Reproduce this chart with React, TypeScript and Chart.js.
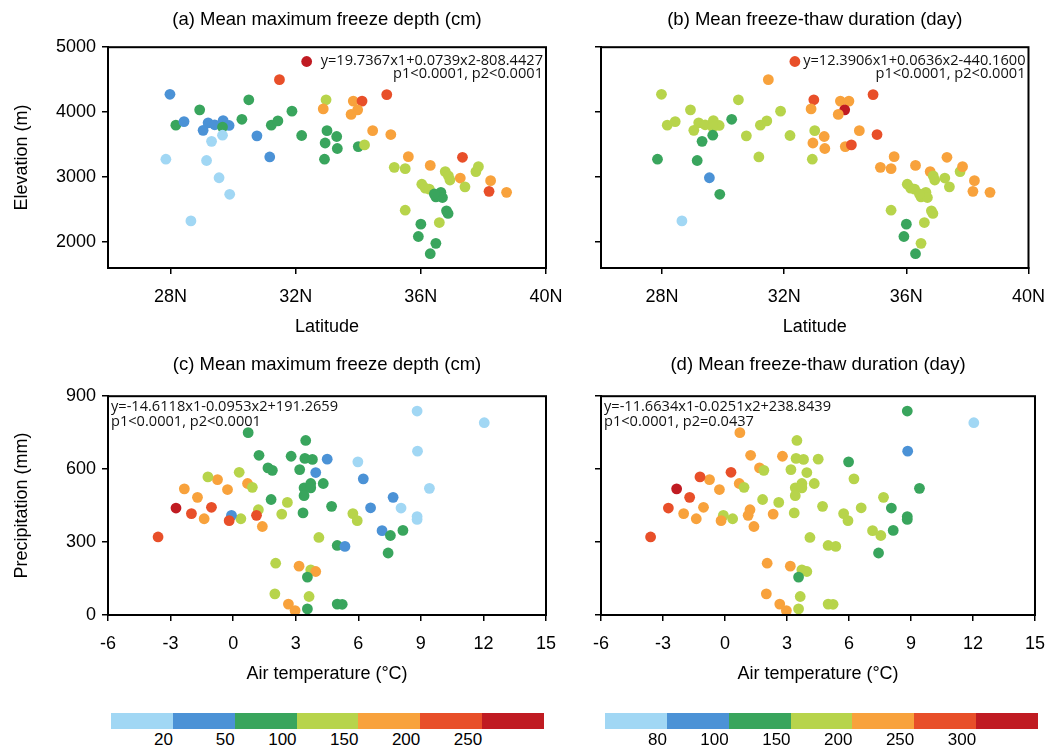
import React, { useEffect, useRef } from "react";
import { Chart, registerables } from "chart.js";

Chart.register(...registerables);

// ---- Stations for panels (a) and (b): latitude (°N) vs elevation (m)
const latitude = [
  32.35, 31.48, 27.98, 30.5, 28.93, 28.17, 28.43, 29.2, 29.41, 29.68,
  29.87, 29.66, 29.04, 29.31, 29.66, 27.85, 29.15, 29.55, 29.89, 28.65,
  30.28, 30.76, 31.17, 31.22, 31.43, 31.88, 32.19, 32.97, 32.88, 33.0,
  32.94, 33.31, 33.33, 32.92, 33.84, 34.12, 33.98, 33.77, 34.91, 34.46,
  35.04, 34.0, 34.2, 35.6, 35.15, 35.5, 36.3, 37.33, 36.78, 36.88,
  36.93, 37.26, 37.41, 37.76, 37.84, 38.23, 38.18, 38.74, 36.03, 36.14,
  36.27, 36.48, 36.64, 36.69, 36.43, 36.82, 36.87, 35.5, 36.0, 36.59,
  35.92, 36.48, 36.3,
];
const elevation = [
  4780, 4500, 4275, 4190, 4035, 3800, 3855, 3835, 3805, 3870,
  3795, 3770, 3720, 3550, 3645, 3275, 3255, 2990, 2735, 2325,
  3890, 3635, 3310, 3800, 3865, 4015, 3640, 4190, 4050, 3715,
  3525, 3625, 3440, 3275, 4170, 4170, 4035, 3965, 4270, 3715,
  3655, 3470, 3495, 3315, 3150, 3130, 3180, 3305, 3085, 3020,
  2955, 2985, 2850, 3085, 3160, 2945, 2780, 2765, 2890, 2830,
  2815, 2695, 2765, 2685, 2740, 2480, 2440, 2490, 2275, 2300,
  2085, 1980, 1820,
];
const freezeDepthAB = [
  280, 230, 40, 85, 70, 65, 35, 42, 38, 45,
  30, 60, 44, 15, 18, 10, 14, 16, 12, 8,
  78, 46, 33, 82, 90, 95, 88, 140, 165, 92,
  80, 86, 74, 68, 180, 240, 190, 172, 235, 185,
  178, 97, 130, 168, 138, 142, 176, 228, 128, 135,
  120, 195, 145, 132, 148, 182, 245, 188, 118, 126,
  134, 93, 88, 84, 90, 76, 72, 112, 66, 116,
  62, 70, 58,
];
const ftDurationAB = [
  270, 230, 170, 180, 175, 165, 172, 178, 168, 182,
  176, 174, 160, 140, 135, 128, 132, 92, 118, 72,
  145, 185, 190, 178, 184, 172, 166, 265, 235, 188,
  215, 220, 225, 195, 240, 238, 315, 228, 275, 232,
  262, 218, 268, 226, 212, 214, 222, 236, 210, 192,
  186, 180, 176, 188, 208, 230, 242, 234, 170, 168,
  172, 164, 176, 160, 166, 162, 170, 178, 142, 158,
  138, 155, 130,
];

// ---- Stations for panels (c) and (d): air temperature (°C) vs precipitation (mm)
const airTemp = [
  0.72, 3.48, 1.24, 2.78, 3.44, 3.8, 4.51, 3.96, 1.67, 1.88,
  3.19, 3.4, 3.72, 3.72, 4.32, 3.4, 1.82, 3.35, 4.72, 5.98,
  6.24, 7.67, 8.05, 6.59, 5.74, 5.95, 8.82, 12.04, 8.84, 9.41,
  8.82, 8.82, 7.14, 7.54, 8.14, 7.43, 4.99, 5.36, 4.11, 4.99,
  5.23, 3.56, 3.64, 2.65, 2.97, 2.0, 2.04, 3.16, 3.72, 3.96,
  3.56, 2.6, 2.33, 0.29, 0.69, 0.92, 1.21, 1.12, 1.4, 0.37,
  -0.08, -0.19, -0.27, -0.75, -1.21, -1.04, -1.39, -2.0, -1.71, -2.34,
  -2.74, -3.6,
];
const precipitation = [
  750, 718, 657, 653, 644, 640, 641, 586, 605, 595,
  598, 523, 541, 523, 541, 491, 475, 420, 447, 630,
  560, 484, 440, 441, 417, 388, 839, 791, 674, 521,
  405, 393, 347, 327, 348, 255, 286, 282, 319, 45,
  44, 25, 76, 45, 18, 87, 213, 201, 186, 179,
  156, 463, 415, 587, 541, 525, 433, 410, 364, 396,
  410, 388, 516, 557, 568, 443, 396, 417, 484, 519,
  440, 321,
];
const freezeDepthCD = [
  82, 88, 76, 85, 90, 78, 45, 40, 72, 80,
  92, 86, 84, 79, 95, 88, 74, 70, 66, 15,
  38, 32, 17, 42, 120, 128, 10, 8, 12, 14,
  16, 18, 36, 62, 68, 58, 64, 44, 115, 60,
  64, 70, 122, 168, 175, 140, 132, 182, 145, 170,
  98, 136, 142, 148, 172, 130, 138, 226, 185, 125,
  48, 232, 178, 190, 146, 240, 186, 235, 192, 180,
  275, 245,
];
const ftDurationCD = [
  235, 185, 228, 222, 180, 176, 170, 188, 215, 192,
  178, 172, 182, 174, 186, 168, 176, 166, 160, 140,
  158, 155, 135, 162, 165, 168, 145, 70, 95, 132,
  138, 128, 158, 170, 142, 130, 162, 166, 172, 175,
  180, 185, 178, 212, 220, 205, 210, 218, 190, 194,
  148, 184, 208, 262, 232, 196, 215, 225, 230, 186,
  198, 238, 226, 240, 270, 236, 228, 242, 265, 318,
  280, 268,
];

// ---- Colour classes and tick labels
const classColors = ["#a1d7f4", "#4b92d6", "#39a55d", "#b7d44b", "#f8a23c", "#e84f29", "#c01b22"];
const depthLevels = [20, 50, 100, 150, 200, 250];
const durationLevels = [80, 100, 150, 200, 250, 300];
const latTicks = [28, 32, 36, 40];
const elevTicks = [2000, 3000, 4000, 5000];
const tempTicks = [-6, -3, 0, 3, 6, 9, 12, 15];
const precipTicks = [0, 300, 600, 900];

const FONT = '"Liberation Sans", Arial, Helvetica, sans-serif';
const EQ_FONT = '"Open Sans", "DejaVu Sans", sans-serif';

function colorFor(v: number, levels: number[]) {
  let k = 0;
  for (const l of levels) if (v > l) k++;
  return classColors[k];
}

type Panel = {
  title: string;
  xs: number[];
  ys: number[];
  vals: number[];
  levels: number[];
  xMin: number; xMax: number; yMin: number; yMax: number;
  xTicks: number[]; yTicks: number[];
  xFmt: (v: number) => string;
  xTitle: string;
  yTitle: string | null;
  eq: string[];
  eqAlign: "left" | "right";
  left: number; top: number; width: number; height: number;
  yAxisWidth: number; padRight: number; xAxisHeight: number;
  titlePadTop: number; titlePadBottom: number; xTitlePadBottom: number;
};

function ScatterPanel({ p }: { p: Panel }) {
  const ref = useRef<HTMLCanvasElement | null>(null);
  useEffect(() => {
    if (!ref.current) return;
    const framePlugin = {
      id: "frameEq",
      afterDraw(chart: any) {
        const { ctx, chartArea: a } = chart;
        ctx.save();
        ctx.strokeStyle = "#000";
        ctx.lineWidth = 2;
        ctx.strokeRect(a.left, a.top, a.right - a.left, a.bottom - a.top);
        ctx.fillStyle = "#111";
        ctx.font = `14.6px ${EQ_FONT}`;
        ctx.textBaseline = "middle";
        if (p.eqAlign === "right") {
          ctx.textAlign = "right";
          ctx.fillText(p.eq[0], a.right - 3, a.top + 13.5);
          ctx.fillText(p.eq[1], a.right - 3, a.top + 27);
        } else {
          ctx.textAlign = "left";
          ctx.fillText(p.eq[0], a.left + 3, a.top + 11);
          ctx.fillText(p.eq[1], a.left + 3, a.top + 26);
        }
        ctx.restore();
      },
    };
    const data = p.xs.map((x, i) => ({ x, y: p.ys[i] }));
    const colors = p.vals.map((v) => colorFor(v, p.levels));
    const chart = new Chart(ref.current, {
      type: "scatter",
      data: {
        datasets: [
          {
            data,
            backgroundColor: colors,
            pointBackgroundColor: colors,
            pointBorderWidth: 0,
            borderWidth: 0,
            pointRadius: 5.4,
            pointHoverRadius: 5.4,
          },
        ],
      },
      options: {
        responsive: false,
        animation: false,
        events: [],
        layout: { padding: { left: 0, right: p.padRight, top: 0, bottom: 0 } },
        plugins: {
          legend: { display: false },
          tooltip: { enabled: false },
          title: {
            display: true,
            text: p.title,
            fullSize: false,
            color: "#000",
            font: { family: FONT, size: 18.5, weight: "normal" },
            padding: { top: p.titlePadTop, bottom: p.titlePadBottom },
          },
        },
        scales: {
          x: {
            type: "linear",
            min: p.xMin,
            max: p.xMax,
            afterBuildTicks: (s: any) => {
              s.ticks = p.xTicks.map((v) => ({ value: v }));
            },
            afterFit: (s: any) => {
              s.height = p.xAxisHeight;
            },
            ticks: {
              callback: (v: any) => p.xFmt(Number(v)),
              color: "#000",
              font: { family: FONT, size: 18 },
              padding: 12,
              maxRotation: 0,
              autoSkip: false,
            },
            grid: {
              display: true,
              drawOnChartArea: false,
              drawTicks: true,
              tickLength: 6,
              color: "#000",
              lineWidth: 1.5,
            },
            border: { display: true, color: "#000", width: 2 },
            title: {
              display: true,
              text: p.xTitle,
              color: "#000",
              font: { family: FONT, size: 18 },
              padding: { top: 0, bottom: p.xTitlePadBottom },
            },
          },
          y: {
            type: "linear",
            min: p.yMin,
            max: p.yMax,
            afterBuildTicks: (s: any) => {
              s.ticks = p.yTicks.map((v) => ({ value: v }));
            },
            afterFit: (s: any) => {
              s.width = p.yAxisWidth;
            },
            ticks: {
              display: p.yTitle !== null,
              callback: (v: any) => String(v),
              color: "#000",
              font: { family: FONT, size: 18 },
              padding: 6,
              autoSkip: false,
            },
            grid: {
              display: true,
              drawOnChartArea: false,
              drawTicks: true,
              tickLength: 6,
              color: "#000",
              lineWidth: 1.5,
            },
            border: { display: true, color: "#000", width: 2 },
            title: {
              display: p.yTitle !== null,
              text: p.yTitle || "",
              color: "#000",
              font: { family: FONT, size: 18 },
              padding: { top: 11, bottom: 0 },
            },
          },
        },
      } as any,
      plugins: [framePlugin as any],
    });
    return () => chart.destroy();
  }, [p]);
  return (
    <canvas
      ref={ref}
      width={p.width}
      height={p.height}
      style={{ position: "absolute", left: p.left, top: p.top, width: p.width, height: p.height }}
    />
  );
}

const latFmt = (v: number) => `${v}N`;
const numFmt = (v: number) => `${v}`;

const panels: Panel[] = [
  {
    title: "(a) Mean maximum freeze depth (cm)",
    xs: latitude, ys: elevation, vals: freezeDepthAB, levels: depthLevels,
    xMin: 26, xMax: 40, yMin: 1600, yMax: 5000, xTicks: latTicks, yTicks: elevTicks,
    xFmt: latFmt, xTitle: "Latitude", yTitle: "Elevation (m)",
    eq: ["y=19.7367x1+0.0739x2-808.4427", "p1<0.0001, p2<0.0001"], eqAlign: "right",
    left: 0, top: 0, width: 580, height: 345, yAxisWidth: 108, padRight: 34, xAxisHeight: 77,
    titlePadTop: 9, titlePadBottom: 16, xTitlePadBottom: 7.2,
  },
  {
    title: "(b) Mean freeze-thaw duration (day)",
    xs: latitude, ys: elevation, vals: ftDurationAB, levels: durationLevels,
    xMin: 26, xMax: 40, yMin: 1600, yMax: 5000, xTicks: latTicks, yTicks: elevTicks,
    xFmt: latFmt, xTitle: "Latitude", yTitle: null,
    eq: ["y=12.3906x1+0.0636x2-440.1600", "p1<0.0001, p2<0.0001"], eqAlign: "right",
    left: 560, top: 0, width: 497, height: 345, yAxisWidth: 41, padRight: 17, xAxisHeight: 77,
    titlePadTop: 9, titlePadBottom: 16, xTitlePadBottom: 7.2,
  },
  {
    title: "(c) Mean maximum freeze depth (cm)",
    xs: airTemp, ys: precipitation, vals: freezeDepthCD, levels: depthLevels,
    xMin: -6, xMax: 15, yMin: 0, yMax: 900, xTicks: tempTicks, yTicks: precipTicks,
    xFmt: numFmt, xTitle: "Air temperature (\u00B0C)", yTitle: "Precipitation (mm)",
    eq: ["y=-14.6118x1-0.0953x2+191.2659", "p1<0.0001, p2<0.0001"], eqAlign: "left",
    left: 0, top: 345, width: 580, height: 355, yAxisWidth: 108, padRight: 34, xAxisHeight: 85,
    titlePadTop: 9, titlePadBottom: 20, xTitlePadBottom: 15.2,
  },
  {
    title: "(d) Mean freeze-thaw duration (day)",
    xs: airTemp, ys: precipitation, vals: ftDurationCD, levels: durationLevels,
    xMin: -6, xMax: 15, yMin: 0, yMax: 900, xTicks: tempTicks, yTicks: precipTicks,
    xFmt: numFmt, xTitle: "Air temperature (\u00B0C)", yTitle: null,
    eq: ["y=-11.6634x1-0.0251x2+238.8439", "p1<0.0001, p2=0.0437"], eqAlign: "left",
    left: 560, top: 345, width: 497, height: 355, yAxisWidth: 41, padRight: 17, xAxisHeight: 85,
    titlePadTop: 9, titlePadBottom: 20, xTitlePadBottom: 15.2,
  },
];

function ColorBar({ left, labels }: { left: number; labels: number[] }) {
  const w = 433;
  const seg = w / classColors.length;
  return (
    <>
      <div style={{ position: "absolute", left, top: 713, width: w, height: 16, display: "flex" }}>
        {classColors.map((c, i) => (
          <div key={i} style={{ flex: 1, background: c }} />
        ))}
      </div>
      {labels.map((l, i) => (
        <div
          key={i}
          style={{
            position: "absolute",
            left: left + (i + 1) * seg - 60,
            width: 60,
            top: 730,
            textAlign: "right",
            fontFamily: FONT,
            fontSize: 17,
            lineHeight: "20px",
            color: "#000",
          }}
        >
          {l}
        </div>
      ))}
    </>
  );
}

export default function App() {
  return (
    <div
      style={{
        position: "absolute",
        left: 0,
        top: 0,
        width: 1057,
        height: 752,
        background: "#fff",
        overflow: "hidden",
      }}
    >
      {panels.map((p, i) => (
        <ScatterPanel key={i} p={p} />
      ))}
      <ColorBar left={111} labels={depthLevels} />
      <ColorBar left={605} labels={durationLevels} />
    </div>
  );
}
